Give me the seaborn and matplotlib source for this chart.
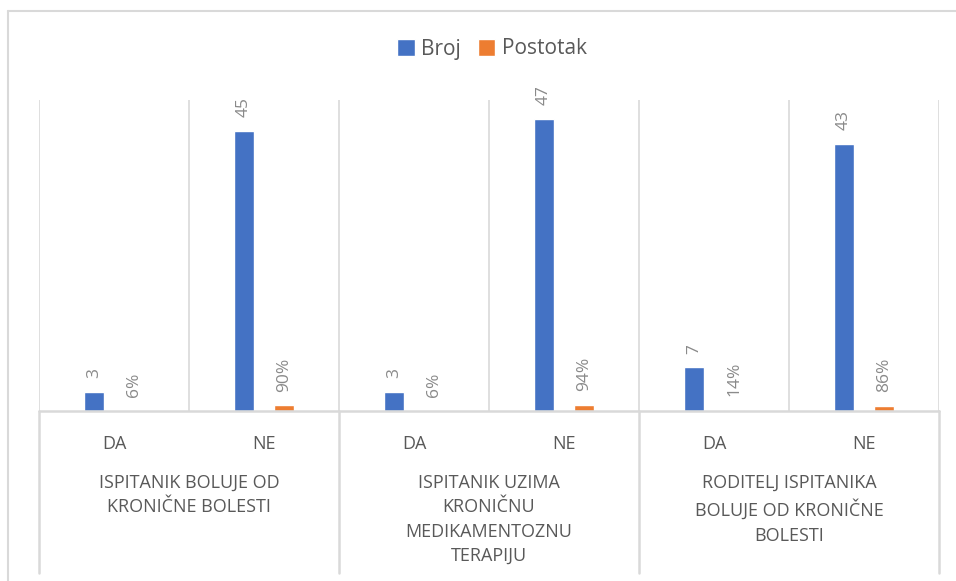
import matplotlib
matplotlib.use("Agg")
import matplotlib.pyplot as plt
import matplotlib.transforms as mtransforms
from matplotlib.lines import Line2D
import seaborn as sns
import pandas as pd

# data
groups = [
    "ISPITANIK BOLUJE OD\nKRONIČNE BOLESTI",
    "ISPITANIK UZIMA\nKRONIČNU\nMEDIKAMENTOZNU\nTERAPIJU",
    "RODITELJ ISPITANIKA\nBOLUJE OD KRONIČNE\nBOLESTI",
]
answers = ["DA", "NE"]
broj = [3, 45, 3, 47, 7, 43]
postotak = [0.06, 0.90, 0.06, 0.94, 0.14, 0.86]
series = ["Broj", "Postotak"]

BLUE = "#4472C4"
ORANGE = "#ED7D31"
GRID = "#D9D9D9"
LABEL_GREY = "#8A8A8A"
TEXT_GREY = "#595959"

sns.set_style("white")
plt.rcParams["font.family"] = ["Open Sans", "DejaVu Sans"]

slots = [f"{g}|{a}" for g in range(len(groups)) for a in answers]
df = pd.DataFrame({
    "slot": slots * 2,
    "value": broj + postotak,
    "serija": [series[0]] * len(slots) + [series[1]] * len(slots),
})

W, H = 956, 581
fig = plt.figure(figsize=(W / 100, H / 100), dpi=100)
ax = fig.add_axes([39 / W, 1 - 411 / H, 900 / W, (411 - 100) / H])

sns.barplot(data=df, x="slot", y="value", hue="serija", order=slots,
            palette=[BLUE, ORANGE], width=0.533, gap=0.5, saturation=1,
            ax=ax)

ax.set_ylim(0, 50)
ax.set_xlim(-0.5, len(slots) - 0.5)
ax.set_xlabel("")
ax.set_ylabel("")
ax.set_yticks([])
for s in ax.spines.values():
    s.set_visible(False)

# data labels
for cont, name in zip(ax.containers, series):
    if name == "Broj":
        labs = [str(v) for v in broj]
    else:
        labs = [f"{round(v * 100)}%" for v in postotak]
    ax.bar_label(cont, labels=labs, rotation=90, padding=10,
                 color=LABEL_GREY, fontsize=12.5)

# gridlines between slots and baseline
for xv in [i - 0.5 for i in range(len(slots) + 1)]:
    ax.axvline(xv, color=GRID, lw=1.2, zorder=0)
ax.axhline(0, color=GRID, lw=1.8, zorder=3, clip_on=False)

# lower category axis
ax.set_xticks(range(len(slots)))
ax.set_xticklabels(answers * len(groups), color=TEXT_GREY, fontsize=13)
ax.tick_params(axis="x", length=0, pad=17)

trans = mtransforms.blended_transform_factory(ax.transData, fig.transFigure)
for xv in [-0.5, 1.5, 3.5, 5.5]:
    ax.add_line(Line2D([xv, xv], [1 - 411 / H, 1 - 573 / H], transform=trans,
                       color=GRID, lw=1.8, clip_on=False))
for i, g in enumerate(groups):
    ax.text(2 * i + 0.5, 1 - 474 / H, g, transform=trans, ha="center",
            va="top", multialignment="center", linespacing=1.45,
            color=TEXT_GREY, fontsize=13)

# legend
sns.move_legend(ax, "center", bbox_to_anchor=(492 / W, 1 - 49 / H),
                bbox_transform=fig.transFigure, ncol=2, frameon=False,
                title=None, fontsize=15, handlelength=0.85, handleheight=0.85,
                handletextpad=0.3, columnspacing=0.8, labelcolor=TEXT_GREY)

# chart border
fig.add_artist(Line2D([8 / W, 1], [1 - 11 / H, 1 - 11 / H],
                      transform=fig.transFigure, color=GRID, lw=1.5))
fig.add_artist(Line2D([8 / W, 8 / W], [0, 1 - 11 / H],
                      transform=fig.transFigure, color=GRID, lw=1.5))

fig.savefig("out.png", dpi=100, facecolor="white")
